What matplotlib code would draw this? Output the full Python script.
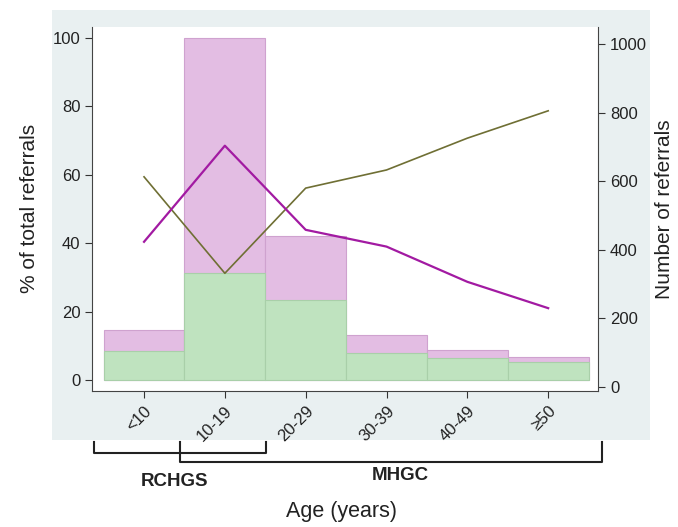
import matplotlib.pyplot as plt
from matplotlib.patches import Rectangle
from matplotlib.lines import Line2D
import numpy as np

plt.rcParams['font.family'] = ['Liberation Sans', 'DejaVu Sans']

# data
ages = ['<10', '10-19', '20-29', '30-39', '40-49', '≥50']
total_bar = [14.6, 100, 42.2, 13.2, 8.8, 6.8]      # pink
mhgc_bar = [8.6, 31.2, 23.4, 7.9, 6.4, 5.4]        # green
pct_rchgs = [40.4, 68.5, 43.9, 39.0, 28.7, 21.0]   # magenta line
pct_mhgc = [59.4, 31.2, 56.1, 61.4, 70.7, 78.7]    # olive line

W, H = 678, 527
fig = plt.figure(figsize=(W / 100, H / 100), dpi=100)
fig.patch.set_facecolor('white')

# pale panel behind the plot
fig.add_artist(Rectangle((52 / W, 1 - 440 / H), (650 - 52) / W, (440 - 10) / H,
                         transform=fig.transFigure, facecolor='#e9f0f1',
                         edgecolor='none', zorder=0))

ax = fig.add_axes([92.3 / W, 1 - 390.7 / H, (598.3 - 92.3) / W, (390.7 - 27) / H])
ax.set_facecolor('white')
x = np.arange(len(ages))

ax.bar(x, total_bar, width=1.0, color='#e3bde3', edgecolor='#cfa2cf', linewidth=0.8, zorder=2)
ax.bar(x, mhgc_bar, width=1.0, color='#bfe3bf', edgecolor='#a9cfa9', linewidth=0.8, zorder=3)
ax.plot(x, pct_mhgc, color='#6f6f34', lw=1.2, zorder=4)
ax.plot(x, pct_rchgs, color='#a21aa2', lw=1.6, zorder=5)

ax.set_xlim(-0.64, 5.62)
ax.set_ylim(-3.13, 103.2)
ax.set_yticks([0, 20, 40, 60, 80, 100])
ax.set_xticks(x)
ax.set_xticklabels(ages, rotation=45, ha='right', rotation_mode='anchor')
ax.tick_params(labelsize=12, length=5, color='#333333', labelcolor='#222222')
ax.tick_params(axis='x', pad=4)
ax.spines['top'].set_visible(False)
ax.spines['right'].set_visible(False)
ax.spines['left'].set_color('#444444')
ax.spines['bottom'].set_color('#444444')
ax.set_ylabel('% of total referrals', fontsize=15, color='#222222', labelpad=10)

ax2 = ax.twinx()
ax2.set_ylim(-11.7, 1049.6)
ax2.set_yticks([0, 200, 400, 600, 800, 1000])
ax2.tick_params(labelsize=12, length=5, color='#333333', labelcolor='#222222')
ax2.spines['top'].set_visible(False)
ax2.spines['left'].set_visible(False)
ax2.spines['bottom'].set_visible(False)
ax2.spines['right'].set_color('#444444')
ax2.set_ylabel('Number of referrals', fontsize=15, color='#222222', labelpad=6)

# service brackets under the axis
def fig_line(xs, ys):
    fig.add_artist(Line2D([v / W for v in xs], [1 - v / H for v in ys],
                          transform=fig.transFigure, color='#222222', lw=1.5))

fig_line([93.5, 93.5, 266, 266], [442, 452.5, 452.5, 442])
fig_line([180, 180, 601.5, 601.5], [442, 462, 462, 442])
fig.text(175 / W, 1 - 481 / H, 'RCHGS', fontsize=13.5, fontweight='bold',
         ha='center', va='center', color='#222222')
fig.text(400 / W, 1 - 476 / H, 'MHGC', fontsize=13.5, fontweight='bold',
         ha='center', va='center', color='#222222')
fig.text(342 / W, 1 - 512 / H, 'Age (years)', fontsize=15.5,
         ha='center', va='center', color='#222222')

fig.savefig('out.png', dpi=100)
